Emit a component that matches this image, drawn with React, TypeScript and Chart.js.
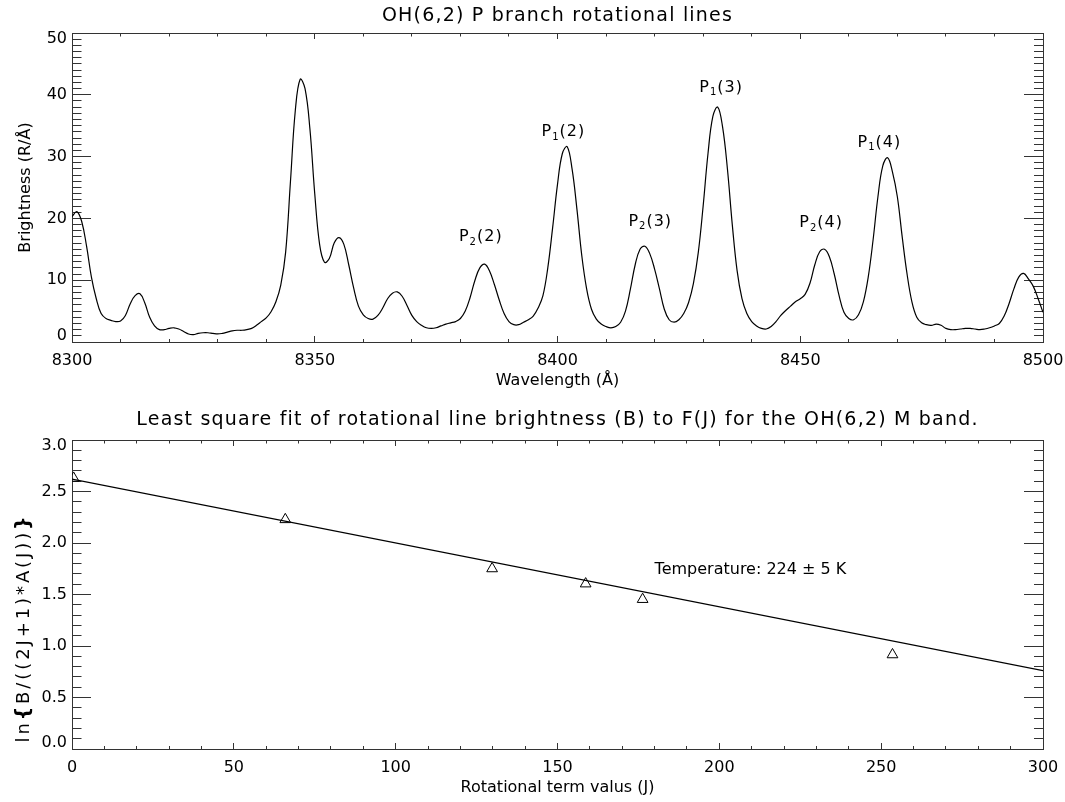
import React, { useEffect, useRef } from "react";
import { Chart, registerables } from "chart.js";

Chart.register(...registerables);

// ---------------- data ----------------
const WAVELENGTH = [
  8300, 8301, 8302, 8303, 8304, 8305, 8306, 8307, 8308, 8309,
  8310, 8311, 8312, 8313, 8314, 8315, 8316, 8317, 8318, 8319,
  8320, 8321, 8322, 8323, 8324, 8325, 8326, 8327, 8328, 8329,
  8330, 8331, 8332, 8333, 8334, 8335, 8336, 8337, 8338, 8339,
  8340, 8341, 8342, 8343, 8344, 8345, 8346, 8347, 8348, 8349,
  8350, 8351, 8352, 8353, 8354, 8355, 8356, 8357, 8358, 8359,
  8360, 8361, 8362, 8363, 8364, 8365, 8366, 8367, 8368, 8369,
  8370, 8371, 8372, 8373, 8374, 8375, 8376, 8377, 8378, 8379,
  8380, 8381, 8382, 8383, 8384, 8385, 8386, 8387, 8388, 8389,
  8390, 8391, 8392, 8393, 8394, 8395, 8396, 8397, 8398, 8399,
  8400, 8401, 8402, 8403, 8404, 8405, 8406, 8407, 8408, 8409,
  8410, 8411, 8412, 8413, 8414, 8415, 8416, 8417, 8418, 8419,
  8420, 8421, 8422, 8423, 8424, 8425, 8426, 8427, 8428, 8429,
  8430, 8431, 8432, 8433, 8434, 8435, 8436, 8437, 8438, 8439,
  8440, 8441, 8442, 8443, 8444, 8445, 8446, 8447, 8448, 8449,
  8450, 8451, 8452, 8453, 8454, 8455, 8456, 8457, 8458, 8459,
  8460, 8461, 8462, 8463, 8464, 8465, 8466, 8467, 8468, 8469,
  8470, 8471, 8472, 8473, 8474, 8475, 8476, 8477, 8478, 8479,
  8480, 8481, 8482, 8483, 8484, 8485, 8486, 8487, 8488, 8489,
  8490, 8491, 8492, 8493, 8494, 8495, 8496, 8497, 8498, 8499,
  8500,
];

const BRIGHTNESS = [
  20.3, 21.1, 19.5, 15.5, 10.5, 7.0, 4.6, 3.8, 3.5, 3.3,
  3.4, 4.3, 6.2, 7.5, 7.8, 6.3, 4.0, 2.6, 2.0, 2.0,
  2.2, 2.3, 2.1, 1.7, 1.3, 1.2, 1.4, 1.5, 1.5, 1.4,
  1.3, 1.4, 1.6, 1.8, 1.9, 1.9, 2.0, 2.2, 2.7, 3.3,
  3.9, 4.9, 6.5, 9.2, 14.5, 26.0, 37.5, 42.5, 41.0, 34.5,
  24.0, 15.8, 12.9, 13.5, 16.0, 16.9, 15.8, 12.5, 8.8, 5.8,
  4.4, 3.8, 3.7, 4.3, 5.5, 7.0, 7.9, 8.1, 7.4, 5.9,
  4.3, 3.3, 2.7, 2.3, 2.2, 2.3, 2.6, 2.9, 3.1, 3.3,
  3.8, 5.0, 7.2, 10.0, 12.0, 12.6, 11.5, 9.3, 6.8, 4.6,
  3.3, 2.8, 2.8, 3.2, 3.6, 4.2, 5.5, 7.5, 12.0, 18.5,
  25.5, 30.5, 31.6, 28.0, 21.5, 14.0, 8.6, 5.3, 3.7, 2.9,
  2.5, 2.3, 2.5, 3.2, 5.0, 8.5, 12.5, 15.0, 15.5, 14.3,
  11.8, 8.6, 5.3, 3.6, 3.2, 3.6, 4.6, 6.4, 9.5, 14.5,
  22.0, 30.5, 36.5, 38.0, 34.8, 28.0, 19.0, 11.5, 7.0, 4.6,
  3.3, 2.6, 2.2, 2.1, 2.5, 3.3, 4.3, 5.1, 5.8, 6.5,
  7.0, 7.7, 9.5, 12.5, 14.6, 15.0, 13.8, 11.0, 7.5, 4.8,
  3.8, 3.6, 4.4, 6.5, 10.5, 16.5, 23.5, 28.5, 29.8, 27.5,
  23.5, 17.0, 11.0, 6.5, 4.0, 3.1, 2.8, 2.7, 2.9, 2.7,
  2.2, 2.0, 2.0, 2.1, 2.2, 2.2, 2.1, 2.0, 2.1, 2.3,
  2.6, 3.0, 4.2, 6.2, 8.6, 10.5, 11.1, 10.2, 9.0, 7.0,
  4.8,
];

const LINE_BRANCH = ["2", "1", "2", "1", "2", "1"];
const LINE_J = ["2", "2", "3", "3", "4", "4"];
const LINE_LABEL_X = [8384.2, 8401.2, 8419.1, 8433.7, 8454.3, 8466.3];
const LINE_LABEL_Y = [16.3, 33.3, 18.8, 40.5, 18.6, 31.6];

const TERM_VALUE = [0.5, 65.9, 129.8, 158.7, 176.3, 253.5];
const LN_RATIO = [2.63, 2.228, 1.751, 1.604, 1.453, 0.916];
const FIT_TERM = [0, 300];
const FIT_LN = [2.62, 0.76];
const TEMPERATURE_TEXT = "Temperature: 224 \u00b1 5 K";
const TEMPERATURE_POS = [180, 1.7];

const SPECTRUM_X_TICKS = [8300, 8350, 8400, 8450, 8500];
const SPECTRUM_Y_TICKS = [0, 10, 20, 30, 40, 50];
const FIT_X_TICKS = [0, 50, 100, 150, 200, 250, 300];
const FIT_Y_TICKS = [0, 0.5, 1.0, 1.5, 2.0, 2.5, 3.0];

const TOP_TITLE = "OH(6,2) P branch rotational lines";
const TOP_X_TITLE = "Wavelength (\u00c5)";
const TOP_Y_TITLE = "Brightness (R/\u00c5)";
const BOT_TITLE =
  "Least square fit of rotational line brightness (B) to F(J) for the OH(6,2) M band.";
const BOT_X_TITLE = "Rotational term valus (J)";

// ---------------- style ----------------
const FAMILY = '"DejaVu Sans", "Liberation Sans", sans-serif';
const TEXT = "#000";
const AXIS = "#333";

type Seg = { t: string; size: number; dy?: number; weight?: string };

function drawText(
  ctx: CanvasRenderingContext2D,
  s: string,
  x: number,
  y: number,
  size: number,
  o: { align?: CanvasTextAlign; baseline?: CanvasTextBaseline; spacing?: number; rot?: number } = {}
) {
  ctx.save();
  ctx.translate(x, y);
  if (o.rot) ctx.rotate(o.rot);
  ctx.font = `normal ${size}px ${FAMILY}`;
  (ctx as any).letterSpacing = `${o.spacing || 0}px`;
  ctx.textAlign = o.align || "center";
  ctx.textBaseline = o.baseline || "middle";
  ctx.fillStyle = TEXT;
  ctx.fillText(s, 0, 0);
  ctx.restore();
}

function drawRich(
  ctx: CanvasRenderingContext2D,
  segs: Seg[],
  x: number,
  y: number,
  spacing: number,
  rot = 0,
  baseline: CanvasTextBaseline = "alphabetic"
) {
  ctx.save();
  ctx.translate(x, y);
  if (rot) ctx.rotate(rot);
  (ctx as any).letterSpacing = `${spacing}px`;
  ctx.textAlign = "left";
  ctx.textBaseline = baseline;
  ctx.fillStyle = TEXT;
  let total = 0;
  const widths = segs.map((s) => {
    ctx.font = `${s.weight || "normal"} ${s.size}px ${FAMILY}`;
    const w = ctx.measureText(s.t).width;
    total += w;
    return w;
  });
  let cx = -total / 2;
  segs.forEach((s, i) => {
    ctx.font = `${s.weight || "normal"} ${s.size}px ${FAMILY}`;
    ctx.fillText(s.t, cx, s.dy || 0);
    cx += widths[i];
  });
  ctx.restore();
}

const isMultiple = (v: number, m: number) => Math.abs(v / m - Math.round(v / m)) < 1e-6;

function tickAxis(
  pos: "top" | "bottom" | "left" | "right",
  min: number,
  max: number,
  step: number,
  major: number,
  majorLen: number,
  minorLen: number
) {
  const horiz = pos === "top" || pos === "bottom";
  const fromBorder = pos === "bottom" || pos === "right";
  const lineLen = majorLen - 0.5;
  const maj = (c: any) => !!c.tick && isMultiple(c.tick.value, major);
  return {
    type: "linear",
    axis: horiz ? "x" : "y",
    position: pos,
    min,
    max,
    weight: 0,
    afterFit: (s: any) => {
      if (horiz) s.height = 0;
      else s.width = 0;
    },
    border: { display: true, color: AXIS, width: 1 },
    ticks: { display: false, stepSize: step },
    grid: {
      drawOnChartArea: false,
      drawTicks: true,
      tickLength: -majorLen,
      tickColor: AXIS,
      tickWidth: 1,
      tickBorderDash: (c: any) =>
        maj(c) ? [] : fromBorder ? [minorLen + 1, 1000] : [minorLen, lineLen - minorLen],
      tickBorderDashOffset: (c: any) => (maj(c) ? 0 : fromBorder ? 0 : minorLen),
    },
  };
}

function labeledX(min: number, max: number, ticks: number[], height: number, fmt: (v: number) => string) {
  return {
    type: "linear",
    position: "bottom",
    min,
    max,
    weight: 1,
    afterBuildTicks: (s: any) => {
      s.ticks = ticks.map((v) => ({ value: v }));
    },
    afterFit: (s: any) => {
      s.height = height;
    },
    border: { display: false },
    grid: { display: false, drawTicks: false },
    ticks: {
      autoSkip: false,
      maxRotation: 0,
      minRotation: 0,
      padding: 0,
      color: TEXT,
      font: { family: FAMILY, size: 16, lineHeight: "38px" },
      callback: (v: any) => fmt(Number(v)),
    },
  };
}

function labeledY(min: number, max: number, ticks: number[], width: number, fmt: (v: number) => string) {
  return {
    type: "linear",
    position: "left",
    min,
    max,
    weight: 1,
    afterBuildTicks: (s: any) => {
      s.ticks = ticks.map((v) => ({ value: v }));
    },
    afterFit: (s: any) => {
      s.width = width;
    },
    border: { display: false },
    grid: { display: false, drawTicks: false },
    ticks: {
      autoSkip: false,
      padding: 5,
      color: TEXT,
      font: { family: FAMILY, size: 16, lineHeight: "12px" },
      callback: (v: any, i: number, arr: any[]) => {
        const s = fmt(Number(v));
        if (i === arr.length - 1) return ["", s];
        if (i === 0) return [s, ""];
        return s;
      },
    },
  };
}

function topConfig(): any {
  const texts = {
    id: "topTexts",
    afterDraw(chart: any) {
      const { ctx, chartArea: a, scales } = chart;
      const cx = (a.left + a.right) / 2;
      drawText(ctx, TOP_TITLE, cx, a.top - 17, 19, { spacing: 1.2 });
      drawText(ctx, TOP_X_TITLE, cx, a.bottom + 39, 16);
      drawText(ctx, TOP_Y_TITLE, 26, (a.top + a.bottom) / 2, 16, { rot: -Math.PI / 2 });
      for (let i = 0; i < LINE_BRANCH.length; i++) {
        drawRich(
          ctx,
          [
            { t: "P", size: 16 },
            { t: LINE_BRANCH[i], size: 10, dy: 3.5 },
            { t: `(${LINE_J[i]})`, size: 16 },
          ],
          scales.x.getPixelForValue(LINE_LABEL_X[i]),
          scales.y.getPixelForValue(LINE_LABEL_Y[i]),
          1
        );
      }
    },
  };
  return {
    type: "line",
    data: {
      datasets: [
        {
          data: WAVELENGTH.map((x, i) => ({ x, y: BRIGHTNESS[i] })),
          borderColor: "#000",
          borderWidth: 1.2,
          pointRadius: 0,
          tension: 0.4,
          fill: false,
        },
      ],
    },
    options: {
      responsive: false,
      animation: false,
      devicePixelRatio: 1,
      events: [],
      layout: { padding: { top: 33, left: 0, right: 22, bottom: 0 } },
      plugins: { legend: { display: false }, tooltip: { enabled: false }, title: { display: false } },
      scales: {
        x: labeledX(8300, 8500, SPECTRUM_X_TICKS, 59, (v) => String(v)),
        y: labeledY(0, 50, SPECTRUM_Y_TICKS, 72, (v) => String(v)),
        xB: tickAxis("bottom", 8300, 8500, 10, 50, 6, 3),
        xT: tickAxis("top", 8300, 8500, 10, 50, 6, 3),
        yL: tickAxis("left", 0, 50, 1, 10, 19, 9),
        yR: tickAxis("right", 0, 50, 1, 10, 19, 9),
      },
    },
    plugins: [texts],
  };
}

function bottomConfig(): any {
  const texts = {
    id: "botTexts",
    afterDraw(chart: any) {
      const { ctx, chartArea: a, scales } = chart;
      const cx = (a.left + a.right) / 2;
      drawText(ctx, BOT_TITLE, cx, a.top - 20, 19, { spacing: 1.2 });
      drawText(ctx, BOT_X_TITLE, cx, a.bottom + 39, 16);
      drawRich(
        ctx,
        [
          { t: "ln", size: 18 },
          { t: "{", size: 19, weight: "bold" },
          { t: "B/((2J+1)*A(J))", size: 18 },
          { t: "}", size: 19, weight: "bold" },
        ],
        24,
        227,
        2.9,
        -Math.PI / 2,
        "middle"
      );
      drawText(
        ctx,
        TEMPERATURE_TEXT,
        scales.x.getPixelForValue(TEMPERATURE_POS[0]),
        scales.y.getPixelForValue(TEMPERATURE_POS[1]),
        16,
        { align: "left", baseline: "alphabetic" }
      );
    },
  };
  return {
    type: "scatter",
    data: {
      datasets: [
        {
          data: TERM_VALUE.map((x, i) => ({ x, y: LN_RATIO[i] })),
          showLine: false,
          pointStyle: "triangle",
          pointRadius: 6.2,
          pointBorderWidth: 1,
          pointBorderColor: "#000",
          pointBackgroundColor: "rgba(0,0,0,0)",
          clip: { left: 0, top: false, right: false, bottom: false },
        },
        {
          data: FIT_TERM.map((x, i) => ({ x, y: FIT_LN[i] })),
          showLine: true,
          borderColor: "#000",
          borderWidth: 1.2,
          pointRadius: 0,
        },
      ],
    },
    options: {
      responsive: false,
      animation: false,
      devicePixelRatio: 1,
      events: [],
      layout: { padding: { top: 39, left: 0, right: 22, bottom: 0 } },
      plugins: { legend: { display: false }, tooltip: { enabled: false }, title: { display: false } },
      scales: {
        x: labeledX(0, 300, FIT_X_TICKS, 53, (v) => String(v)),
        y: labeledY(0, 3, FIT_Y_TICKS, 72, (v) => v.toFixed(1)),
        xB: tickAxis("bottom", 0, 300, 10, 50, 6, 3),
        xT: tickAxis("top", 0, 300, 10, 50, 6, 3),
        yL: tickAxis("left", 0, 3, 0.1, 0.5, 19, 9),
        yR: tickAxis("right", 0, 3, 0.1, 0.5, 19, 9),
      },
    },
    plugins: [texts],
  };
}

export default function App() {
  const topRef = useRef<HTMLCanvasElement>(null);
  const botRef = useRef<HTMLCanvasElement>(null);
  useEffect(() => {
    const c1 = new Chart(topRef.current as HTMLCanvasElement, topConfig());
    const c2 = new Chart(botRef.current as HTMLCanvasElement, bottomConfig());
    return () => {
      c1.destroy();
      c2.destroy();
    };
  }, []);
  return (
    <div style={{ position: "fixed", left: 0, top: 0, width: 1065, height: 802, background: "#fff" }}>
      <canvas
        ref={topRef}
        width={1065}
        height={401}
        style={{ position: "absolute", left: 0, top: 0, width: 1065, height: 401 }}
      />
      <canvas
        ref={botRef}
        width={1065}
        height={401}
        style={{ position: "absolute", left: 0, top: 401, width: 1065, height: 401 }}
      />
    </div>
  );
}
